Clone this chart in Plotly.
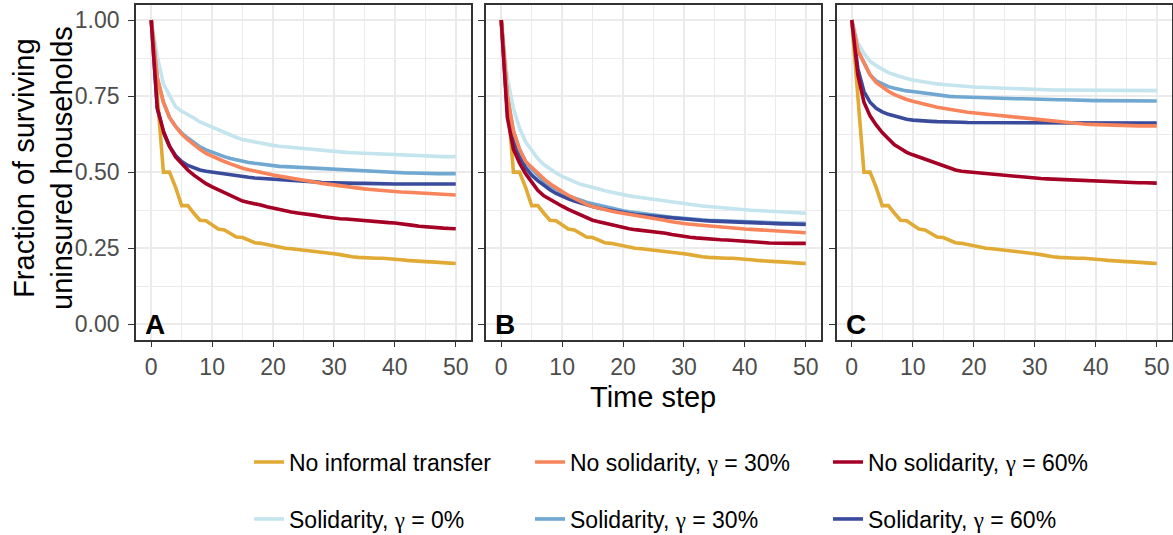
import plotly.graph_objects as go

W, H = 1173, 535

time_steps = list(range(51))

no_transfer = [1.0, .75, .50, .50, .45, .39, .39, .365, .342, .340, .327, .313, .310, .300, .287, .285, .278, .268, .266, .262,
               .257, .254, .250, .248, .246, .243, .240, .240, .238, .234, .232, .229, .225, .222, .220, .218, .218, .217, .217, .216,
               .214, .212, .210, .208, .206, .206, .205, .203, .202, .201, .200]

# Panel A
a_nosol30 = [1.0, .81, .73, .68, .65, .625, .607, .59, .575, .562, .552, .543, .535, .527, .519, .513, .508, .503, .498, .494,
             .491, .487, .484, .480, .477, .474, .471, .467, .463, .460, .457, .455, .453, .450, .447, .445, .443, .441, .439, .437,
             .436, .435, .434, .433, .432, .431, .430, .428, .427, .426, .425]
a_nosol60 = [1.0, .71, .635, .585, .55, .527, .507, .49, .475, .462, .452, .442, .433, .422, .412, .405, .400, .397, .392, .386,
             .381, .377, .372, .369, .366, .364, .362, .358, .354, .351, .349, .347, .346, .344, .342, .340, .338, .337, .335, .334,
             .333, .331, .328, .325, .322, .320, .319, .317, .316, .315, .314]
a_sol0 = [1.0, .88, .79, .75, .715, .70, .69, .678, .665, .656, .648, .638, .630, .622, .614, .607, .603, .598, .594, .590,
          .588, .585, .583, .581, .579, .577, .576, .575, .573, .570, .568, .566, .565, .564, .563, .562, .561, .560, .559, .558,
          .556, .555, .555, .554, .553, .553, .552, .552, .551, .551, .551]
a_sol30 = [1.0, .81, .73, .68, .65, .628, .612, .597, .583, .573, .565, .557, .551, .545, .540, .536, .532, .529, .526, .523,
           .521, .519, .518, .517, .516, .515, .514, .512, .510, .508, .507, .506, .505, .505, .504, .504, .503, .502, .501, .500,
           .499, .498, .497, .497, .496, .496, .496, .495, .495, .495, .495]
a_sol60 = [1.0, .71, .63, .585, .555, .535, .522, .513, .507, .503, .500, .496, .493, .490, .487, .485, .483, .481, .480, .479,
           .477, .476, .474, .472, .471, .470, .469, .468, .466, .465, .465, .464, .464, .463, .463, .463, .462, .462, .462, .461,
           .461, .461, .461, .461, .461, .461, .461, .461, .461, .461, .461]

# Panel B
b_nosol30 = [1.0, .75, .635, .575, .535, .515, .495, .478, .462, .448, .436, .424, .413, .403, .394, .387, .381, .376, .372, .368,
             .365, .361, .358, .355, .351, .348, .345, .341, .337, .333, .331, .329, .327, .325, .323, .321, .319, .317, .316, .314,
             .313, .312, .311, .310, .308, .306, .305, .304, .303, .302, .301]
b_nosol60 = [1.0, .68, .575, .53, .495, .468, .44, .422, .41, .398, .388, .378, .369, .36, .348, .342, .337, .332, .327, .322,
             .318, .314, .311, .309, .307, .305, .303, .299, .295, .291, .288, .286, .284, .282, .280, .279, .278, .277, .276, .275,
             .275, .273, .271, .269, .267, .266, .266, .266, .266, .266, .266]
b_sol0 = [1.0, .81, .71, .645, .60, .57, .545, .525, .51, .497, .486, .477, .468, .46, .455, .451, .445, .439, .434, .429,
          .425, .422, .419, .416, .413, .411, .408, .405, .402, .399, .397, .395, .392, .389, .387, .385, .383, .381, .379, .378,
          .376, .375, .374, .373, .371, .370, .369, .368, .367, .366, .365]
b_sol30 = [1.0, .75, .635, .575, .535, .51, .49, .47, .455, .442, .432, .422, .414, .407, .401, .396, .391, .386, .381, .377,
           .373, .370, .367, .364, .361, .359, .357, .355, .352, .350, .348, .347, .345, .343, .342, .341, .340, .339, .338, .337,
           .336, .335, .335, .334, .334, .333, .333, .332, .332, .332, .332]
b_sol60 = [1.0, .70, .60, .55, .515, .49, .472, .456, .442, .43, .42, .412, .405, .398, .392, .387, .382, .378, .374, .370,
           .367, .364, .361, .359, .357, .355, .353, .351, .349, .347, .345, .344, .342, .341, .340, .339, .338, .337, .336, .335,
           .334, .333, .333, .332, .331, .331, .330, .330, .329, .329, .328]

# Panel C
c_nosol30 = [1.0, .90, .86, .82, .795, .78, .766, .755, .746, .739, .733, .728, .722, .717, .713, .71, .706, .703, .700, .697,
             .695, .693, .691, .688, .686, .684, .682, .680, .678, .675, .673, .671, .669, .667, .664, .662, .661, .660, .658, .657,
             .656, .655, .655, .654, .654, .653, .653, .652, .652, .652, .652]
c_nosol60 = [1.0, .82, .73, .685, .655, .63, .61, .59, .578, .565, .557, .55, .542, .535, .527, .52, .513, .507, .503, .501,
             .499, .497, .495, .493, .491, .489, .487, .485, .483, .481, .480, .479, .478, .477, .476, .475, .474, .473, .472, .471,
             .470, .469, .469, .468, .467, .466, .466, .465, .465, .464, .464]
c_sol0 = [1.0, .925, .89, .865, .85, .837, .827, .82, .813, .808, .803, .799, .796, .793, .79, .788, .786, .784, .782, .781,
          .78, .779, .778, .778, .777, .777, .776, .775, .774, .773, .772, .771, .771, .770, .770, .770, .770, .769, .769, .769,
          .769, .769, .769, .769, .768, .768, .768, .768, .768, .768, .768]
c_sol30 = [1.0, .90, .86, .82, .80, .79, .781, .776, .771, .767, .765, .762, .759, .756, .753, .75, .749, .748, .747, .746,
           .746, .745, .745, .744, .743, .743, .742, .741, .741, .740, .740, .740, .739, .739, .738, .738, .737, .737, .736, .736,
           .735, .735, .735, .735, .735, .735, .734, .734, .734, .734, .734]
c_sol60 = [1.0, .84, .765, .73, .71, .698, .69, .684, .678, .674, .671, .669, .668, .667, .666, .666, .665, .664, .664, .663,
           .663, .662, .662, .662, .662, .662, .662, .662, .662, .662, .661, .661, .661, .661, .661, .661, .661, .661, .661, .661,
           .661, .661, .661, .661, .661, .661, .661, .661, .661, .661, .661]

GAMMA = '<span style="font-family:Liberation Serif">γ</span>'
series_names = ["No informal transfer", f"No solidarity, {GAMMA} = 30%", f"No solidarity, {GAMMA} = 60%",
                f"Solidarity, {GAMMA} = 0%", f"Solidarity, {GAMMA} = 30%", f"Solidarity, {GAMMA} = 60%"]
series_colors = ["#E0AA35", "#F7845A", "#A50026", "#C4E4EE", "#70A8D2", "#3A4B9C"]

panels = [
    [no_transfer, a_nosol30, a_nosol60, a_sol0, a_sol30, a_sol60],
    [no_transfer, b_nosol30, b_nosol60, b_sol0, b_sol30, b_sol60],
    [no_transfer, c_nosol30, c_nosol60, c_sol0, c_sol30, c_sol60],
]
panel_labels = ["A", "B", "C"]

x_ticks = [0, 10, 20, 30, 40, 50]
y_ticks = [0.0, 0.25, 0.5, 0.75, 1.0]
y_tick_text = ["0.00", "0.25", "0.50", "0.75", "1.00"]

FONT = "Liberation Sans, Arial, sans-serif"

# pixel layout of panels
px_left = [136, 486, 836.5]
px_right = [471, 821, 1172]
px_top, px_bottom = 4.8, 339.5

# legend placement (text start px, row centre px)
leg_text_x = [289, 570, 868, 289, 570, 868]
leg_row_y = [462, 462, 462, 519, 519, 519]

draw_order = [3, 4, 5, 0, 1, 2]

fig = go.Figure()
for p, data in enumerate(panels):
    xa = "x" if p == 0 else f"x{p+1}"
    ya = "y" if p == 0 else f"y{p+1}"
    for k in draw_order:
        fig.add_trace(go.Scatter(
            x=time_steps, y=data[k], mode="lines", name=series_names[k],
            line=dict(color=series_colors[k], width=3.6),
            xaxis=xa, yaxis=ya,
            showlegend=(p == 0),
            legend="legend" if k == 0 else f"legend{k+1}",
        ))

axis_common = dict(
    showline=True, mirror=True, linecolor="#333333", linewidth=1.6,
    ticks="outside", ticklen=6, tickwidth=1.4, tickcolor="#333333",
    showgrid=True, gridcolor="#EBEBEB", gridwidth=1.7,
    zeroline=False,
    tickfont=dict(family=FONT, size=23, color="#4D4D4D"),
)

layout = dict(
    width=W, height=H,
    margin=dict(l=0, r=0, t=0, b=0, autoexpand=False),
    paper_bgcolor="white", plot_bgcolor="white",
    font=dict(family=FONT),
    annotations=[],
)
for p in range(3):
    xk = "xaxis" if p == 0 else f"xaxis{p+1}"
    yk = "yaxis" if p == 0 else f"yaxis{p+1}"
    layout[xk] = dict(
        axis_common,
        domain=[px_left[p] / W, px_right[p] / W],
        range=[-2.5, 52.5], tickvals=x_ticks, ticklabelstandoff=0,
        minor=dict(tickvals=[5, 15, 25, 35, 45], showgrid=True, gridcolor="#EBEBEB", gridwidth=0.9, ticks=""),
        anchor="y" if p == 0 else f"y{p+1}",
    )
    layout[yk] = dict(
        axis_common,
        domain=[1 - px_bottom / H, 1 - px_top / H],
        range=[-0.05, 1.05], tickvals=y_ticks, ticktext=y_tick_text, ticklabelstandoff=4,
        showticklabels=(p == 0),
        minor=dict(tickvals=[0.125, 0.375, 0.625, 0.875], showgrid=True, gridcolor="#EBEBEB", gridwidth=0.9, ticks=""),
        anchor="x" if p == 0 else f"x{p+1}",
    )
    layout["annotations"].append(dict(
        text=f"<b>{panel_labels[p]}</b>", x=-1.3, y=0.0, xref="x" if p == 0 else f"x{p+1}",
        yref="y" if p == 0 else f"y{p+1}", xanchor="left", yanchor="middle", showarrow=False,
        font=dict(family=FONT, size=28, color="black"),
    ))

layout["annotations"].append(dict(
    text="Fraction of surviving<br>uninsured households", textangle=-90,
    x=43 / W, y=1 - 168 / H, xref="paper", yref="paper", xanchor="center", yanchor="middle",
    showarrow=False, font=dict(family=FONT, size=29, color="black"),
))
layout["annotations"].append(dict(
    text="Time step", x=653.5 / W, y=1 - 397 / H, xref="paper", yref="paper",
    xanchor="center", yanchor="middle", showarrow=False,
    font=dict(family=FONT, size=29, color="black"),
))

for k in range(6):
    key = "legend" if k == 0 else f"legend{k+1}"
    layout[key] = dict(
        xref="container", yref="container",
        x=(leg_text_x[k] - 40) / W, y=1 - leg_row_y[k] / H,
        xanchor="left", yanchor="middle",
        bgcolor="rgba(0,0,0,0)", borderwidth=0,
        font=dict(family=FONT, size=23, color="black"),
        orientation="h",
    )

fig.update_layout(**layout)
fig.write_html("out.html")
